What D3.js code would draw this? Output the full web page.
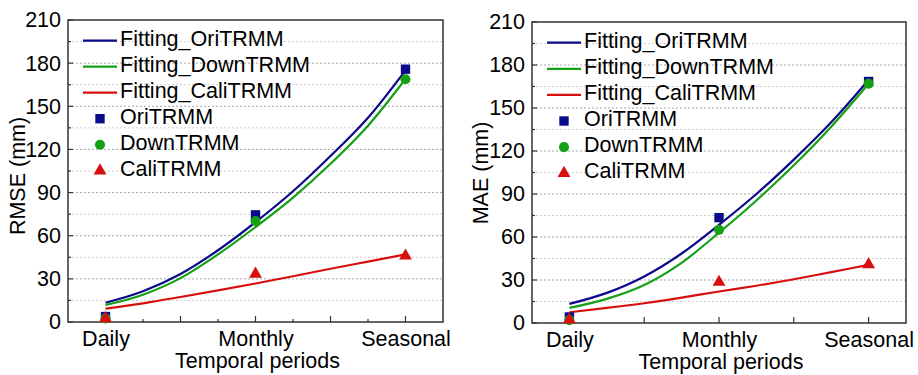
<!DOCTYPE html>
<html>
<head>
<meta charset="utf-8">
<script src="https://cdn.jsdelivr.net/npm/d3@7"></script>
<style>
  html, body { margin: 0; padding: 0; background: #fff; }
  svg { display: block; }
  text { font-family: "Liberation Sans", Arial, sans-serif; fill: #000; }
</style>
</head>
<body>
<svg id="chart" width="918" height="375"></svg>
<script>
// Temporal aggregation levels (x positions 1, 2, 3)
const periods = ["Daily", "Monthly", "Seasonal"];
const yTicks = [0, 30, 60, 90, 120, 150, 180, 210];

// Observed error statistics (mm)
const rmseOri  = [3.8, 74.5, 175.8];
const rmseDown = [2.5, 70.2, 168.8];
const rmseCali = [2.5, 33.4, 46.0];
const maeOri   = [4.2, 73.5, 168.5];
const maeDown  = [2.0, 65.0, 167.0];
const maeCali  = [2.2, 28.5, 40.8];

// Fitted trend curves, sampled along the period axis
const fitX         = [1, 1.25, 1.5, 1.75, 2, 2.25, 2.5, 2.75, 3];
const rmseFitOri   = [13.4, 21.4, 33.4, 49.9, 69.4, 90.9, 115.4, 142.0, 175.0];
const rmseFitDown  = [11.8, 19.0, 30.5, 47.0, 66.0, 86.5, 110.0, 136.5, 169.0];
const rmseFitCali  = [9.3, 13.0, 17.4, 22.0, 26.8, 31.8, 37.0, 42.0, 47.0];
const maeFitOri    = [13.3, 21.0, 32.5, 48.5, 68.5, 90.0, 114.0, 140.0, 169.5];
const maeFitDown   = [10.5, 16.8, 26.5, 42.0, 63.0, 85.5, 110.0, 137.0, 167.0];
const maeFitCali   = [7.5, 10.5, 13.8, 17.7, 22.0, 26.0, 30.5, 35.5, 40.5];

const legendLabels = ["Fitting_OriTRMM", "Fitting_DownTRMM", "Fitting_CaliTRMM", "OriTRMM", "DownTRMM", "CaliTRMM"];

const colors = { ori: "#0a0a8a", down: "#16a016", cali: "#d80f0f" };
const FONT = 21.5;

const svg = d3.select("#chart");

function drawPanel(cfg) {
  const g = svg.append("g");
  const x = d3.scaleLinear().domain([0.75, 3.25]).range([cfg.left, cfg.right]);
  const y = d3.scaleLinear().domain([0, 210]).range([cfg.bottom, cfg.top]);

  // dotted grid at every 15 mm
  const grid = d3.range(15, 210, 15);
  g.selectAll(".grid").data(grid).enter().append("line")
    .attr("x1", cfg.left).attr("x2", cfg.right)
    .attr("y1", d => y(d)).attr("y2", d => y(d))
    .attr("stroke", d => d % 30 === 0 ? "#a8a8a8" : "#cfcfcf")
    .attr("stroke-width", 1)
    .attr("stroke-dasharray", "2,2");

  // y axis ticks (inward) and labels
  const yAxis = d3.axisLeft(y).tickValues(yTicks).tickSize(0).tickPadding(7);
  const ya = g.append("g").attr("transform", `translate(${cfg.left},0)`).call(yAxis);
  ya.select(".domain").remove();
  ya.selectAll("text").attr("font-size", FONT).attr("font-family", '"Liberation Sans", Arial, sans-serif').attr("fill", "#000");
  g.selectAll(".ytick").data(d3.range(0, 211, 15)).enter().append("line")
    .attr("x1", cfg.left).attr("x2", d => cfg.left + (d % 30 === 0 ? 5 : 3))
    .attr("y1", d => y(d)).attr("y2", d => y(d))
    .attr("stroke", "#333").attr("stroke-width", 1.2);

  // x axis ticks (inward) and labels
  g.selectAll(".xtick").data(cfg.xTicks).enter().append("line")
    .attr("x1", d => x(d.v)).attr("x2", d => x(d.v))
    .attr("y1", cfg.bottom).attr("y2", d => cfg.bottom - (d.major ? 6 : 3))
    .attr("stroke", "#333").attr("stroke-width", 1.2);
  const xAxis = d3.axisBottom(x).tickValues([1, 2, 3])
    .tickFormat((d, i) => periods[i]).tickSize(0).tickPadding(9);
  const xa = g.append("g").attr("transform", `translate(0,${cfg.bottom})`).call(xAxis);
  xa.select(".domain").remove();
  xa.selectAll("text").attr("font-size", FONT).attr("font-family", '"Liberation Sans", Arial, sans-serif').attr("fill", "#000");

  // frame
  g.append("rect")
    .attr("x", cfg.left).attr("y", cfg.top)
    .attr("width", cfg.right - cfg.left).attr("height", cfg.bottom - cfg.top)
    .attr("fill", "none").attr("stroke", "#333").attr("stroke-width", 1.5);

  // axis titles
  g.append("text")
    .attr("x", (cfg.left + cfg.right) / 2 + 2).attr("y", cfg.xTitleY)
    .attr("text-anchor", "middle").attr("font-size", FONT)
    .text("Temporal periods");
  g.append("text")
    .attr("transform", `translate(${cfg.yTitleX},${cfg.yTitleCY}) rotate(-90)`)
    .attr("text-anchor", "middle").attr("font-size", FONT)
    .text(cfg.yTitle);

  // fitted curves
  const line = d3.line().x(d => x(d[0])).y(d => y(d[1])).curve(d3.curveMonotoneX);
  cfg.fits.forEach(f => {
    g.append("path")
      .datum(fitX.map((v, i) => [v, f.values[i]]))
      .attr("d", line)
      .attr("fill", "none").attr("stroke", f.color).attr("stroke-width", 2.2);
  });

  // observed points
  const sq = d3.symbol().type(d3.symbolSquare).size(88);
  const ci = d3.symbol().type(d3.symbolCircle).size(80);
  const tr = d3.symbol().type(d3.symbolTriangle).size(72);
  const sets = [
    { vals: cfg.ori, sym: sq, color: colors.ori },
    { vals: cfg.down, sym: ci, color: colors.down },
    { vals: cfg.cali, sym: tr, color: colors.cali }
  ];
  sets.forEach(s => {
    g.selectAll(null).data(s.vals).enter().append("path")
      .attr("d", s.sym)
      .attr("transform", (d, i) => `translate(${x(i + 1)},${y(d)})`)
      .attr("fill", s.color);
  });

  // legend
  const lg = g.append("g");
  legendLabels.forEach((lab, i) => {
    const ry = cfg.legY + i * cfg.legStep;
    const lx0 = cfg.legX, lx1 = cfg.legX + 34;
    if (i < 3) {
      const c = [colors.ori, colors.down, colors.cali][i];
      lg.append("line").attr("x1", lx0).attr("x2", lx1).attr("y1", ry).attr("y2", ry)
        .attr("stroke", c).attr("stroke-width", 2.2);
    } else {
      const s = sets[i - 3];
      lg.append("path").attr("d", s.sym)
        .attr("transform", `translate(${(lx0 + lx1) / 2},${ry})`)
        .attr("fill", s.color);
    }
    lg.append("text").attr("x", lx1 + 3).attr("y", ry + 5)
      .attr("font-size", FONT).text(lab);
  });
}

drawPanel({
  left: 68, right: 443, top: 20, bottom: 322,
  yTitle: "RMSE (mm)", yTitleX: 25, yTitleCY: 176, xTitleY: 368,
  xTicks: [{v: 1.25, major: false}, {v: 1.5, major: true}, {v: 1.75, major: false},
           {v: 2, major: true}, {v: 2.25, major: false}, {v: 2.5, major: true},
           {v: 2.75, major: false}, {v: 3, major: true}],
  ori: rmseOri, down: rmseDown, cali: rmseCali,
  fits: [
    { values: rmseFitOri, color: colors.ori },
    { values: rmseFitDown, color: colors.down },
    { values: rmseFitCali, color: colors.cali }
  ],
  legX: 83, legY: 40.7, legStep: 26
});

drawPanel({
  left: 532, right: 906, top: 22, bottom: 323,
  yTitle: "MAE (mm)", yTitleX: 488, yTitleCY: 173, xTitleY: 369,
  xTicks: [{v: 1.5, major: true}, {v: 2, major: true}, {v: 2.5, major: true}, {v: 3, major: true}],
  ori: maeOri, down: maeDown, cali: maeCali,
  fits: [
    { values: maeFitOri, color: colors.ori },
    { values: maeFitDown, color: colors.down },
    { values: maeFitCali, color: colors.cali }
  ],
  legX: 547, legY: 42.7, legStep: 26.1
});
</script>
</body>
</html>
